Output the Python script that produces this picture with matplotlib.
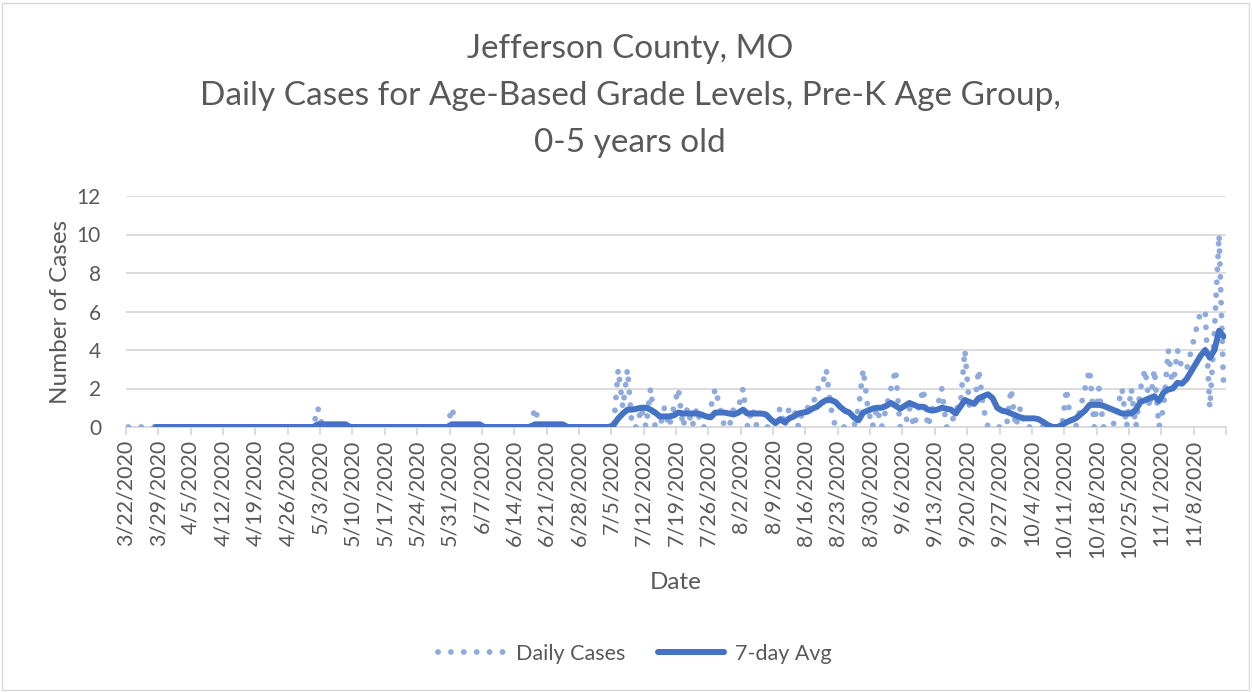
import pandas as pd
import matplotlib
matplotlib.use("Agg")
from matplotlib import pyplot
from matplotlib.lines import Line2D
from matplotlib.patches import Rectangle

# one row per week, Sunday..Saturday, starting 3/22/2020
daily_cases = [
    0, 0, 0, 0, 0, 0, 0,
    0, 0, 0, 0, 0, 0, 0,
    0, 0, 0, 0, 0, 0, 0,
    0, 0, 0, 0, 0, 0, 0,
    0, 0, 0, 0, 0, 0, 0,
    0, 0, 0, 0, 0, 0, 1,
    0, 0, 0, 0, 0, 0, 0,
    0, 0, 0, 0, 0, 0, 0,
    0, 0, 0, 0, 0, 0, 0,
    0, 0, 0, 0, 0, 0, 0,
    1, 0, 0, 0, 0, 0, 0,
    0, 0, 0, 0, 0, 0, 0,
    0, 0, 0, 0, 1, 0, 0,
    0, 0, 0, 0, 0, 0, 0,
    0, 0, 0, 0, 0, 0, 0,
    0, 3, 1, 3, 0, 0, 1,
    0, 2, 0, 0, 1, 0, 1,
    2, 0, 1, 0, 1, 0, 0,
    1, 2, 1, 0, 0, 1, 1,
    2, 0, 1, 0, 0, 0, 0,
    0, 1, 0, 1, 1, 0, 1,
    1, 1, 2, 2, 3, 1, 0,
    0, 0, 0, 0, 1, 3, 1,
    0, 1, 0, 1, 2, 3, 0,
    0, 1, 0, 1, 2, 0, 1,
    1, 2, 0, 0, 1, 1, 4,
    1, 1, 3, 1, 0, 0, 0,
    0, 0, 2, 0, 1, 0, 0,
    0, 0, 0, 0, 0, 0, 0,
    2, 0, 0, 1, 2, 3, 0,
    2, 0, 0, 0, 1, 2, 0,
    2, 0, 2, 3, 1, 3, 0,
    1, 4, 2, 4, 3, 3, 4,
    5, 6, 6, 1, 5, 10, 2,
]

nan = float("nan")
seven_day_avg = [
    nan, nan, nan, nan, nan, nan, 0,
    0, 0, 0, 0, 0, 0, 0,
    0, 0, 0, 0, 0, 0, 0,
    0, 0, 0, 0, 0, 0, 0,
    0, 0, 0, 0, 0, 0, 0,
    0, 0, 0, 0, 0, 0, 0.14,
    0.14, 0.14, 0.14, 0.14, 0.14, 0.14, 0,
    0, 0, 0, 0, 0, 0, 0,
    0, 0, 0, 0, 0, 0, 0,
    0, 0, 0, 0, 0, 0, 0,
    0.14, 0.14, 0.14, 0.14, 0.14, 0.14, 0.14,
    0, 0, 0, 0, 0, 0, 0,
    0, 0, 0, 0, 0.14, 0.14, 0.14,
    0.14, 0.14, 0.14, 0.14, 0, 0, 0,
    0, 0, 0, 0, 0, 0, 0,
    0.1, 0.45, 0.7, 0.9, 0.9, 0.95, 1.0,
    1.0, 0.9, 0.75, 0.55, 0.55, 0.55, 0.6,
    0.75, 0.7, 0.7, 0.7, 0.7, 0.65, 0.55,
    0.5, 0.75, 0.75, 0.75, 0.7, 0.65, 0.75,
    0.9, 0.7, 0.7, 0.7, 0.7, 0.65, 0.4,
    0.2, 0.4, 0.25, 0.45, 0.55, 0.7, 0.75,
    0.8, 0.95, 1.05, 1.25, 1.4, 1.4, 1.3,
    1.05, 0.85, 0.75, 0.5, 0.35, 0.75, 0.85,
    0.95, 1.0, 1.0, 1.1, 1.25, 1.1, 0.95,
    1.1, 1.25, 1.15, 1.05, 1.05, 0.9, 0.85,
    0.9, 1.0, 0.95, 0.9, 0.7, 1.05, 1.4,
    1.3, 1.2, 1.5, 1.6, 1.7, 1.5, 1.0,
    0.85, 0.8, 0.7, 0.6, 0.5, 0.45, 0.45,
    0.45, 0.4, 0.25, 0.1, 0.0, 0.0, 0.1,
    0.25, 0.35, 0.45, 0.65, 0.85, 1.15, 1.15,
    1.15, 1.1, 1.0, 0.9, 0.8, 0.7, 0.7,
    0.7, 0.9, 1.3, 1.4, 1.5, 1.6, 1.35,
    1.8, 1.95, 2.0, 2.3, 2.25, 2.5, 2.9,
    3.3, 3.7, 4.0, 3.6, 4.0, 5.0, 4.7,
]

title_lines = [
    "Jefferson County, MO",
    "Daily Cases for Age-Based Grade Levels, Pre-K Age Group,",
    "0-5 years old",
]

GREY_TEXT = "#595959"
GRID = "#d9d9d9"
DAILY_COLOR = "#8faadc"
AVG_COLOR = "#4472c4"
DOTS = (0, (0.01, 2.2))

pyplot.rcParams["font.family"] = ["Lato", "DejaVu Sans"]

dates = pd.date_range("2020-03-22", periods=len(daily_cases), freq="D")
# excel centres each day inside its slot
x = dates + pd.Timedelta(hours=12)
week_ticks = pd.date_range(dates[0], dates[-1], freq="7D")
tick_labels = ["{}/{}/{}".format(d.month, d.day, d.year) for d in week_ticks]

fig = pyplot.figure(figsize=(12.52, 6.92), dpi=100)
ax = fig.add_axes([126 / 1252, 1 - 427 / 692, 1100 / 1252, 231 / 692])

ax.plot(x, daily_cases, color=DAILY_COLOR, lw=4.2,
        linestyle=DOTS, dash_capstyle="round", zorder=3)
ax.plot(x, seven_day_avg, color=AVG_COLOR, lw=4.3,
        solid_capstyle="round", solid_joinstyle="round", zorder=4)

ax.set_xlim(dates[0], dates[-1] + pd.Timedelta(days=1))
ax.set_ylim(0, 12)
ax.set_yticks(range(0, 13, 2))
ax.set_xticks(week_ticks)
ax.set_xticks([dates[-1] + pd.Timedelta(days=1)], minor=True)
ax.set_xticklabels(tick_labels, rotation=90)

ax.grid(axis="y", color=GRID, lw=1.3, zorder=0)
for side in ["top", "right", "left"]:
    ax.spines[side].set_visible(False)
ax.spines["bottom"].set_color(GRID)
ax.spines["bottom"].set_linewidth(1.3)
ax.tick_params(axis="y", length=0, labelsize=15, labelcolor=GREY_TEXT, pad=18)
ax.tick_params(axis="x", which="both", length=6, color=GRID, width=1.3,
               labelsize=15.5, labelcolor=GREY_TEXT, pad=3)

ax.set_ylabel("Number of Cases", fontsize=17.5, color=GREY_TEXT, labelpad=4)
ax.set_xlabel("Date", fontsize=17.5, color=GREY_TEXT, labelpad=10)

for i, line in enumerate(title_lines):
    fig.text(630 / 1252, 1 - (49 + 47 * i) / 692, line, ha="center", va="center",
             fontsize=24, color=GREY_TEXT)

handles = [
    Line2D([], [], color=DAILY_COLOR, lw=4.2, linestyle=DOTS,
           dash_capstyle="round"),
    Line2D([], [], color=AVG_COLOR, lw=4.3, solid_capstyle="round"),
]
fig.legend(handles, ["Daily Cases", "7-day Avg"], loc="center",
           bbox_to_anchor=(635 / 1252, 1 - 654 / 692), ncol=2, frameon=False,
           fontsize=15.5, labelcolor=GREY_TEXT, handlelength=3.1,
           handletextpad=0.5, columnspacing=1.5)

fig.patches.append(Rectangle((2 / 1252, 2 / 692), 1247 / 1252, 687 / 692,
                             transform=fig.transFigure, fill=False,
                             edgecolor=GRID, lw=1.0))

fig.savefig("out.png", dpi=100)
